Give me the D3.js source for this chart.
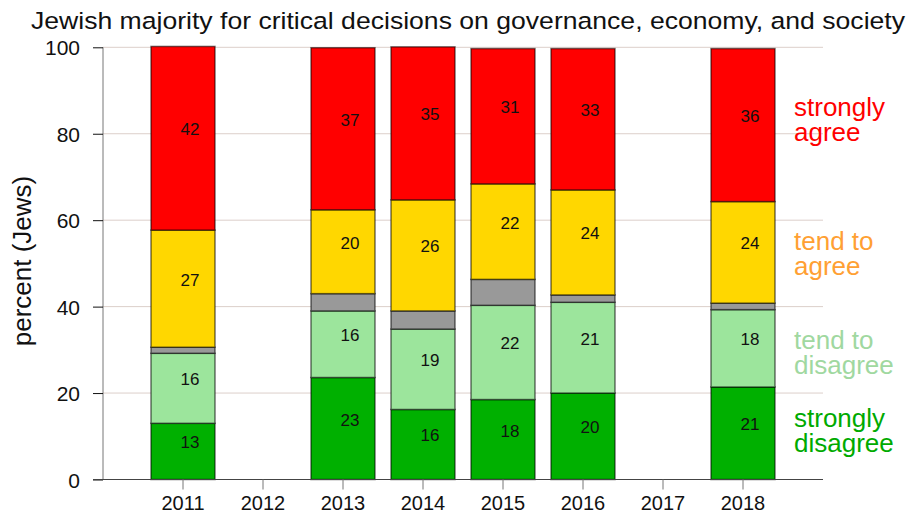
<!DOCTYPE html>
<html><head><meta charset="utf-8">
<script src="https://cdn.jsdelivr.net/npm/d3@7"></script>
<style>
html,body{margin:0;padding:0;background:#fff;}
svg{display:block;font-family:"Liberation Sans",Arial,sans-serif;}
</style></head>
<body><svg id="c" width="913" height="514"></svg>
<script>
const years = ["2011","2012","2013","2014","2015","2016","2017","2018"];
const stronglyDisagree = [13.0, null, 23.6, 16.2, 18.5, 20.0, null, 21.4];
const tendDisagree     = [16.2, null, 15.4, 18.6, 21.8, 21.0, null, 17.9];
const dontKnow         = [1.4,  null, 4.0,  4.2,  6.0,  1.7,  null, 1.5];
const tendAgree        = [27.1, null, 19.4, 25.7, 22.1, 24.3, null, 23.5];
const stronglyAgree    = [42.5, null, 37.5, 35.4, 31.3, 32.7, null, 35.4];
const labelsSD = ["13", "", "23", "16", "18", "20", "", "21"];
const labelsTD = ["16", "", "16", "19", "22", "21", "", "18"];
const labelsTA = ["27", "", "20", "26", "22", "24", "", "24"];
const labelsSA = ["42", "", "37", "35", "31", "33", "", "36"];
const yTicks = [0, 20, 40, 60, 80, 100];
const title = "Jewish majority for critical decisions on governance, economy, and society";
const yTitle = "percent (Jews)";
const legendLines = [["strongly","agree"],["tend to","agree"],["tend to","disagree"],["strongly","disagree"]];

const series = [
  {vals: stronglyDisagree, labels: labelsSD, fill: "#00b000"},
  {vals: tendDisagree, labels: labelsTD, fill: "#9ce59c"},
  {vals: dontKnow, labels: null, fill: "#999999"},
  {vals: tendAgree, labels: labelsTA, fill: "#ffd700"},
  {vals: stronglyAgree, labels: labelsSA, fill: "#ff0000"}
];
const legendColors = ["#ff0000", "#ffa033", "#a0d8a0", "#00aa00"];

const svg = d3.select("#c");
const pLeft = 103, pRight = 823, pTop = 47.3, pBottom = 479.5;
const x = d3.scaleBand().domain(years).range([pLeft, pRight]).paddingInner(0.2).paddingOuter(0.6);
const y = d3.scaleLinear().domain([0, 100]).range([pBottom, pTop]);

// gridlines
svg.append("g").selectAll("line").data(yTicks.filter(d => d > 0)).join("line")
  .attr("x1", pLeft).attr("x2", pRight)
  .attr("y1", d => y(d)).attr("y2", d => y(d))
  .attr("stroke", "#dccfca").attr("stroke-width", 1);

// bars
const stackData = years.map((yr, i) => {
  let acc = 0;
  return series.map((s) => {
    const v = s.vals[i];
    if (v == null) return null;
    const seg = {yr, y0: acc, y1: acc + v, fill: s.fill, label: s.labels ? s.labels[i] : null};
    acc += v;
    return seg;
  }).filter(d => d);
});
const segs = stackData.flat();
svg.append("g").selectAll("rect").data(segs).join("rect")
  .attr("x", d => x(d.yr)).attr("width", x.bandwidth())
  .attr("y", d => y(d.y1)).attr("height", d => y(d.y0) - y(d.y1))
  .attr("fill", d => d.fill)
  .attr("stroke", "#000").attr("stroke-opacity", 0.55).attr("stroke-width", 1.5);

svg.append("g").selectAll("text").data(segs.filter(d => d.label)).join("text")
  .attr("x", d => x(d.yr) + x.bandwidth() / 2 + 7)
  .attr("y", d => (y(d.y0) + y(d.y1)) / 2 - 3)
  .attr("text-anchor", "middle")
  .attr("font-size", 17).attr("fill", "#111")
  .text(d => d.label);

// y axis
const yAxis = svg.append("g").attr("transform", `translate(${pLeft},0)`)
  .call(d3.axisLeft(y).tickValues(yTicks).tickSize(10).tickPadding(13));
yAxis.select(".domain").attr("stroke", "#777").attr("d", `M0,${pTop}V${pBottom}`);
yAxis.selectAll(".tick line").attr("stroke", "#111");
yAxis.selectAll(".tick text").attr("font-size", 21).attr("fill", "#111")
  .attr("font-family", "'Liberation Sans', Arial, sans-serif").attr("dy", "0.36em");

// x axis
const xAxis = svg.append("g").attr("transform", `translate(0,${pBottom})`)
  .call(d3.axisBottom(x).tickSize(10).tickPadding(6));
xAxis.select(".domain").attr("stroke", "#444").attr("d", `M${pLeft - 10},0H${pRight}`);
xAxis.selectAll(".tick line").attr("stroke", "#777");
xAxis.selectAll(".tick text").attr("font-size", 20).attr("fill", "#111")
  .attr("font-family", "'Liberation Sans', Arial, sans-serif");

// title
svg.append("text").attr("x", 31).attr("y", 29)
  .attr("font-size", 24.5).attr("fill", "#111")
  .attr("textLength", 874).attr("lengthAdjust", "spacingAndGlyphs").text(title);

// y title
svg.append("text").attr("transform", "translate(31,261) rotate(-90)")
  .attr("text-anchor", "middle").attr("font-size", 26).attr("fill", "#111").text(yTitle);

// legend
const legendY = [116, 250, 349, 427];
legendLines.forEach((lines, i) => {
  const t = svg.append("text").attr("x", 794).attr("y", legendY[i])
    .attr("font-size", 26).attr("fill", legendColors[i]);
  lines.forEach((ln, j) => t.append("tspan").attr("x", 794).attr("dy", j === 0 ? 0 : 25).text(ln));
});
</script></body></html>
